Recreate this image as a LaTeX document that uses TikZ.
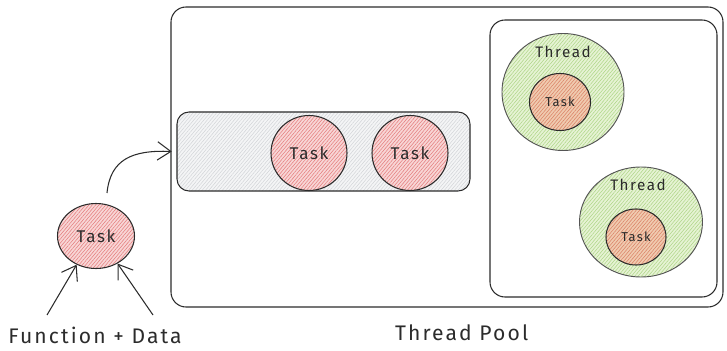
\documentclass[tikz,border=0pt]{standalone}
\usepackage{fontspec}
\setmainfont{Fira Sans}[LetterSpace=10]
\usepackage{tikz}
\usetikzlibrary{
  shapes.geometric,%
  arrows.meta,%
  patterns.meta
}
\definecolor{inkcol}{HTML}{2B2B2B}
\definecolor{taskfill}{HTML}{F8D6D6}
\definecolor{taskhatch}{HTML}{E47C7C}
\definecolor{innerfill}{HTML}{F0CBB0}
\definecolor{innerhatch}{HTML}{DA8064}
\definecolor{threadfill}{HTML}{E6F3D4}
\definecolor{threadhatch}{HTML}{AED587}
\definecolor{queuefill}{HTML}{F4F5F6}
\definecolor{queuehatch}{HTML}{D3D5D8}
\tikzset{>=Straight Barb}
\tikzset{
  hatch/.style={pattern={Lines[angle=50,distance=2.2pt,line width=0.45pt]},
    pattern color=#1},
  tasknode/.style={ellipse, draw=inkcol, line width=0.9pt, inner sep=0pt,
    preaction={fill=taskfill}, hatch=taskhatch, text=inkcol,
    font=\fontsize{14.5}{16}\selectfont},
  innertask/.style={tasknode, preaction={fill=innerfill}, hatch=innerhatch,
    font=\fontsize{11}{13}\selectfont},
  threadnode/.style={ellipse, draw=inkcol!80, line width=0.8pt, inner sep=0pt,
    preaction={fill=threadfill}, hatch=threadhatch},
  threadlbl/.style={text=inkcol, font=\fontsize{13}{15}\selectfont},
  poolbox/.style={rectangle, draw=inkcol, line width=0.9pt, rounded corners=0.45cm},
  queuebox/.style={rectangle, draw=inkcol, line width=0.9pt, rounded corners=0.36cm,
    preaction={fill=queuefill}, hatch=queuehatch},
  flowarrow/.style={->, draw=inkcol, line width=0.9pt,
    arrows={-Straight Barb[length=0.4cm,width=0.55cm]}},
  biglbl/.style={text=inkcol, font=\fontsize{18}{21}\selectfont}
}
\begin{document}
\begin{tikzpicture}
  \useasboundingbox (0,0) rectangle (21.81,10.53);
  % thread pool
  \node[poolbox, minimum width=16.56cm, minimum height=9cm] (pool) at (13.41,5.82) {};
  \node[biglbl] (poollbl) at (13.85,0.54) {Thread Pool};
  % task queue
  \node[queuebox, minimum width=8.79cm, minimum height=2.37cm] (queue) at (9.705,5.985) {};
  \node[tasknode, minimum width=2.28cm, minimum height=2.25cm] (q1) at (9.27,5.94) {Task};
  \node[tasknode, minimum width=2.28cm, minimum height=2.25cm] (q2) at (12.3,5.94) {Task};
  % workers
  \node[poolbox, minimum width=6.81cm, minimum height=8.31cm] (workers) at (18.105,5.775) {};
  \node[threadnode, minimum width=3.66cm, minimum height=3.51cm] (thread1) at (16.89,7.77) {};
  \node[threadlbl] (thread1lbl) at (16.89,8.97) {Thread};
  \node[innertask, minimum width=1.83cm, minimum height=1.71cm] (t1task) at (16.8,7.47) {Task};
  \node[threadnode, minimum width=3.69cm, minimum height=3.3cm] (thread2) at (19.23,3.87) {};
  \node[threadlbl] (thread2lbl) at (19.14,4.98) {Thread};
  \node[innertask, minimum width=1.8cm, minimum height=1.68cm] (t2task) at (19.08,3.42) {Task};
  % incoming task
  \node[tasknode, minimum width=2.31cm, minimum height=1.95cm] (ltask) at (2.88,3.45) {Task};
  \node[biglbl] (inlbl) at (2.85,0.48) {Function + Data};
  \coordinate (fn) at (1.41,1.08);
  \coordinate (dt) at (4.59,1.08);
  \draw[flowarrow] (fn) -- (ltask.-124);
  \draw[flowarrow] (dt) -- (ltask.-52);
  \draw[flowarrow] ([shift={(0.33,0.3)}]ltask.north) .. controls +(0.1,1.0) and +(-1.2,0.05) .. ([xshift=-0.15cm]queue.west);
\end{tikzpicture}
\end{document}
